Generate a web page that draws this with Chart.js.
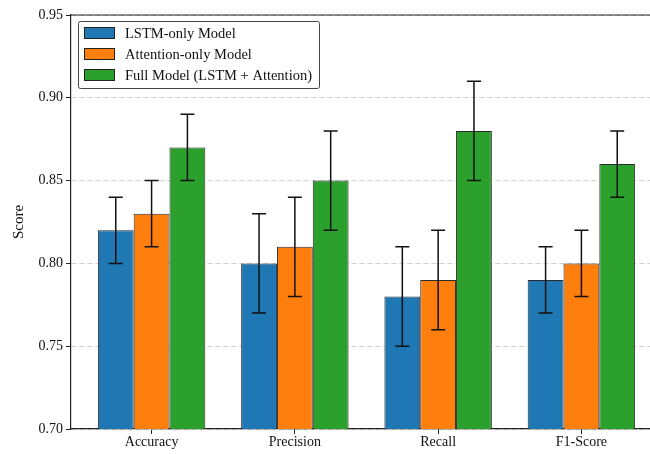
<!DOCTYPE html>
<html>
<head>
<meta charset="utf-8">
<script src="https://cdn.jsdelivr.net/npm/chart.js@4.4.1/dist/chart.umd.min.js"></script>
<style>
    html, body { margin: 0; padding: 0; background: #fff; overflow: hidden; }
    #wrap { width: 680px; height: 454px; }
</style>
</head>
<body>
<div id="wrap"><canvas id="scoreChart"></canvas></div>
<script>
const categories = ['Accuracy', 'Precision', 'Recall', 'F1-Score'];
const seriesNames = ['LSTM-only Model', 'Attention-only Model', 'Full Model (LSTM + Attention)'];
const lstmScores = [0.82, 0.80, 0.78, 0.79];
const attnScores = [0.83, 0.81, 0.79, 0.80];
const fullScores = [0.87, 0.85, 0.88, 0.86];
const lstmErr = [0.02, 0.03, 0.03, 0.02];
const attnErr = [0.02, 0.03, 0.03, 0.02];
const fullErr = [0.02, 0.03, 0.03, 0.02];
const barColors = ['#1f77b4', '#ff7f0e', '#2ca02c'];

const FONT = '"Liberation Serif", "DejaVu Serif", serif';

function toPoints(values) {
    return values.map((v, i) => ({ x: i, y: v }));
}

// error bars drawn on top of every bar
const errorBarPlugin = {
    id: 'errorBars',
    afterDatasetsDraw(chart) {
        const ctx = chart.ctx;
        const yScale = chart.scales.y;
        ctx.save();
        ctx.strokeStyle = '#111';
        ctx.lineWidth = 1.5;
        chart.data.datasets.forEach((ds, di) => {
            const meta = chart.getDatasetMeta(di);
            meta.data.forEach((bar, i) => {
                const v = ds.data[i].y;
                const e = ds.errors[i];
                const yTop = yScale.getPixelForValue(v + e);
                const yBot = yScale.getPixelForValue(v - e);
                const cap = 7;
                ctx.beginPath();
                ctx.moveTo(bar.x, yTop);
                ctx.lineTo(bar.x, yBot);
                ctx.moveTo(bar.x - cap, yTop);
                ctx.lineTo(bar.x + cap, yTop);
                ctx.moveTo(bar.x - cap, yBot);
                ctx.lineTo(bar.x + cap, yBot);
                ctx.stroke();
            });
        });
        ctx.restore();
    }
};

// top spine + legend box in the upper left corner
const framePlugin = {
    id: 'frame',
    afterDraw(chart) {
        const ctx = chart.ctx;
        const area = chart.chartArea;
        ctx.save();
        ctx.strokeStyle = '#222';
        ctx.lineWidth = 1.2;
        ctx.beginPath();
        ctx.moveTo(area.left, area.top);
        ctx.lineTo(area.right, area.top);
        ctx.stroke();

        const bx = area.left + 7, by = area.top + 6, bw = 241, bh = 67;
        ctx.fillStyle = 'rgba(255,255,255,0.85)';
        ctx.strokeStyle = '#444';
        ctx.lineWidth = 1;
        ctx.beginPath();
        ctx.roundRect(bx + 0.5, by + 0.5, bw, bh, 2);
        ctx.fill();
        ctx.stroke();

        ctx.font = '14.5px ' + FONT;
        ctx.textBaseline = 'middle';
        seriesNames.forEach((name, i) => {
            const cy = by + 12 + i * 21;
            ctx.fillStyle = barColors[i];
            ctx.fillRect(bx + 6.5, cy - 5.5, 30, 11);
            ctx.strokeStyle = '#222';
            ctx.strokeRect(bx + 6.5, cy - 5.5, 30, 11);
            ctx.fillStyle = '#111';
            ctx.fillText(name, bx + 47, cy + 1);
        });
        ctx.restore();
    }
};

const allScores = [lstmScores, attnScores, fullScores];
const allErr = [lstmErr, attnErr, fullErr];

new Chart(document.getElementById('scoreChart'), {
    type: 'bar',
    data: {
        datasets: seriesNames.map((name, i) => ({
            label: name,
            data: toPoints(allScores[i]),
            errors: allErr[i],
            backgroundColor: barColors[i],
            borderColor: '#2a2a2a',
            borderWidth: 1,
            borderSkipped: false,
            categoryPercentage: 0.75,
            barPercentage: 1.0
        }))
    },
    options: {
        responsive: true,
        maintainAspectRatio: false,
        animation: false,
        layout: { padding: { top: 15, right: 18, left: 0, bottom: 0 } },
        scales: {
            x: {
                type: 'linear',
                min: -0.5625,
                max: 3.5625,
                offset: false,
                afterBuildTicks(scale) {
                    scale.ticks = categories.map((c, i) => ({ value: i }));
                },
                afterFit(scale) { scale.height = 25; },
                ticks: {
                    callback: (v) => categories[v],
                    color: '#111',
                    font: { family: FONT, size: 14 },
                    padding: 0,
                    maxRotation: 0,
                    autoSkip: false
                },
                grid: { offset: false, drawOnChartArea: false, drawTicks: true, tickLength: 5, tickColor: '#222', tickWidth: 1 },
                border: { color: '#222', width: 1.2 }
            },
            y: {
                min: 0.70,
                max: 0.95,
                afterFit(scale) { scale.width = 71; },
                ticks: {
                    stepSize: 0.05,
                    callback: (v) => v.toFixed(2),
                    color: '#111',
                    font: { family: FONT, size: 14 },
                    padding: 3
                },
                title: {
                    display: true,
                    text: 'Score',
                    color: '#111',
                    font: { family: FONT, size: 15 },
                    padding: { top: 10, bottom: 0 }
                },
                grid: {
                    color: '#d0d0d0',
                    lineWidth: 1,
                    tickColor: '#222',
                    tickLength: 5,
                    tickWidth: 1,
                    tickBorderDash: []
                },
                border: { color: '#222', width: 1.2, dash: [5, 3] }
            }
        },
        plugins: {
            legend: { display: false },
            tooltip: { enabled: false }
        }
    },
    plugins: [errorBarPlugin, framePlugin]
});
</script>
</body>
</html>
